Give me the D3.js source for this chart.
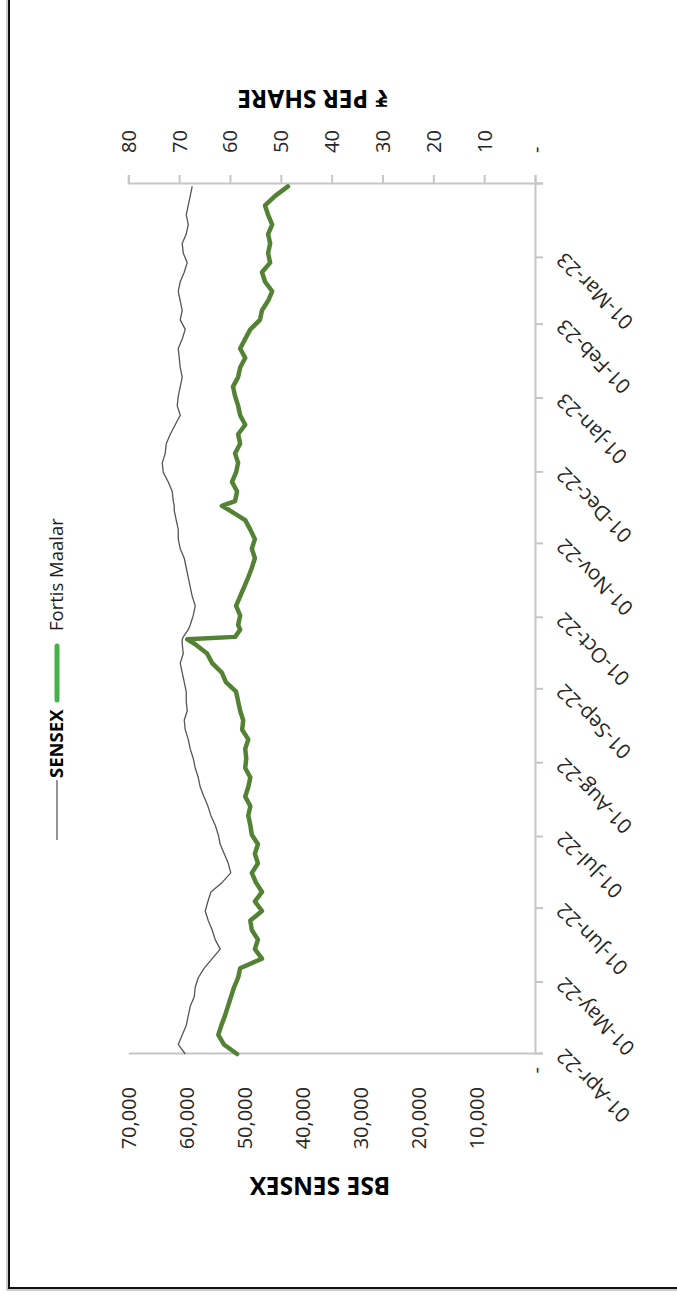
<!DOCTYPE html>
<html><head><meta charset="utf-8">
<script src="https://cdn.jsdelivr.net/npm/d3@7"></script>
<style>html,body{margin:0;padding:0;background:#fff;overflow:hidden}</style>
</head><body><svg id="c" width="677" height="1298"></svg>
<script>
const dates = [
"2022-04-01","2022-04-05","2022-04-09","2022-04-13","2022-04-17","2022-04-21","2022-04-25","2022-04-29",
"2022-05-03","2022-05-07","2022-05-11","2022-05-15","2022-05-19","2022-05-23","2022-05-27","2022-05-31",
"2022-06-04","2022-06-08","2022-06-12","2022-06-16","2022-06-20","2022-06-24","2022-06-28",
"2022-07-02","2022-07-06","2022-07-10","2022-07-14","2022-07-18","2022-07-22","2022-07-26","2022-07-30",
"2022-08-03","2022-08-07","2022-08-11","2022-08-15","2022-08-19","2022-08-23","2022-08-27","2022-08-31",
"2022-09-04","2022-09-08","2022-09-12","2022-09-16","2022-09-20","2022-09-22","2022-09-23","2022-09-26","2022-09-28",
"2022-10-02","2022-10-06","2022-10-10","2022-10-14","2022-10-18","2022-10-22","2022-10-26","2022-10-30",
"2022-11-03","2022-11-07","2022-11-11","2022-11-15","2022-11-17","2022-11-19","2022-11-23","2022-11-27",
"2022-12-01","2022-12-05","2022-12-09","2022-12-13","2022-12-17","2022-12-21","2022-12-25","2022-12-29",
"2023-01-02","2023-01-06","2023-01-10","2023-01-14","2023-01-18","2023-01-22","2023-01-26","2023-01-30",
"2023-02-03","2023-02-07","2023-02-11","2023-02-15","2023-02-19","2023-02-23","2023-02-27",
"2023-03-03","2023-03-07","2023-03-11","2023-03-15","2023-03-19","2023-03-23","2023-03-27","2023-03-31"];

const sensex = [
60200,61400,60720,60030,59680,59340,58650,58480,
57960,56930,55560,54180,55040,55560,56240,56760,
56300,55780,53840,52360,52800,53490,54180,
54520,55040,55780,56300,56990,57620,57960,58480,
58820,59340,59680,60200,60370,59860,60030,60030,
60370,60720,61060,60540,60720,60720,60540,59680,59340,
58820,58480,59000,59340,59680,60030,60370,61060,
61400,61400,61750,62090,62090,62260,62440,63120,
63980,64160,63640,63470,62780,61920,61060,61580,
61400,61060,60720,61060,61230,61400,60720,60200,
61060,60720,61060,61400,61060,60370,59860,
60540,60720,60030,59680,60030,59680,59340,59000];

const fortis = [
58.6,61.2,62.3,61.7,61.0,60.4,59.8,59.2,
58.4,58.0,53.7,55.1,54.5,55.7,56.0,53.7,
55.1,53.7,54.9,55.7,54.5,55.1,54.5,
55.7,56.0,56.4,56.0,57.0,56.4,56.0,57.0,
56.8,57.0,56.4,57.6,57.4,58.0,58.4,58.8,
60.8,61.6,63.5,64.5,66.9,68.4,59.0,58.0,58.4,
58.0,58.8,58.0,57.2,56.4,55.7,55.1,55.7,
55.1,56.0,57.0,60.0,61.6,59.0,58.6,59.6,
58.8,58.4,59.0,58.0,58.4,57.0,58.0,58.4,
59.0,59.4,58.4,58.0,57.0,58.0,57.0,56.0,
54.1,53.7,52.5,51.7,53.1,53.7,52.1,
52.5,52.1,52.5,51.7,52.5,53.1,51.1,48.6];

const monthTicks = ["2022-04-01","2022-05-01","2022-06-01","2022-07-01","2022-08-01","2022-09-01",
"2022-10-01","2022-11-01","2022-12-01","2023-01-01","2023-02-01","2023-03-01","2023-04-01"];
const sensexTicks = [0,10000,20000,30000,40000,50000,60000,70000];
const priceTicks = [0,10,20,30,40,50,60,70,80];
const seriesNames = ["SENSEX","Fortis Maalar"];
const leftTitle = "BSE SENSEX";
const rightTitle = "\u20B9 PER SHARE";

const parse = d3.timeParse("%Y-%m-%d");
const PW = 1298;  // chart width before rotation
const svg = d3.select("#c");
const FONT = "'Open Sans', 'Noto Sans', sans-serif";

// outer frame
svg.append("path").attr("d","M7,0 V1290 H677").attr("fill","none").attr("stroke","#9a9a9a").attr("stroke-width",1);
svg.append("path").attr("d","M9,0 V1288 H677").attr("fill","none").attr("stroke","#111").attr("stroke-width",2);

const g = svg.append("g").attr("transform",`translate(0,${PW}) rotate(-90)`);

const x0 = 244, x1 = 1114, yb = 535, yt = 128.3;
const x = d3.scaleTime().domain([parse("2022-04-01"), parse("2023-04-01")]).range([x0, x1]);
const yL = d3.scaleLinear().domain([0,70000]).range([yb, yt]);
const yR = d3.scaleLinear().domain([0,80]).range([yb, yt]);

const axisCol = "#c6c6c6", textCol = "#262626";

// date axis
const xa = g.append("g").attr("transform",`translate(0,${yb})`)
  .call(d3.axisBottom(x).tickValues(monthTicks.map(parse)).tickSize(8)
    .tickFormat(d3.timeFormat("%d-%b-%y")));
xa.select(".domain").attr("stroke",axisCol).attr("stroke-width",2);
xa.selectAll(".tick line").attr("stroke",axisCol).attr("stroke-width",2);
xa.selectAll(".tick text")
  .attr("font-family",FONT).attr("font-size",20.5).attr("fill",textCol)
  .attr("text-anchor","end").attr("x",0).attr("y",0).attr("dy","0.35em")
  .attr("transform","translate(1,25) rotate(-45)")
  .style("display",(d,i)=> i===monthTicks.length-1 ? "none" : null);

// left axis
const la = g.append("g").attr("transform",`translate(${x0},0)`)
  .call(d3.axisLeft(yL).tickValues(sensexTicks).tickSize(0)
    .tickFormat(d => d===0 ? "-" : d3.format(",")(d)));
la.select(".domain").attr("stroke",axisCol).attr("stroke-width",2);
la.selectAll(".tick text")
  .attr("font-family",FONT).attr("font-size",20).attr("fill",textCol)
  .attr("x", d => d===0 ? -13 : -33).attr("dy","0.35em");

// right axis
const ra = g.append("g").attr("transform",`translate(${x1},0)`)
  .call(d3.axisRight(yR).tickValues(priceTicks).tickSize(9)
    .tickFormat(d => d===0 ? "-" : d3.format(",")(d)));
ra.select(".domain").attr("stroke",axisCol).attr("stroke-width",2);
ra.selectAll(".tick line").attr("stroke",axisCol).attr("stroke-width",2);
ra.selectAll(".tick text")
  .attr("font-family",FONT).attr("font-size",20).attr("fill",textCol)
  .attr("x",31).attr("dy","0.35em");

// lines
const ds = dates.map(parse);
const lineL = d3.line().x((d,i)=>x(ds[i])).y(d=>yL(d));
const lineR = d3.line().x((d,i)=>x(ds[i])).y(d=>yR(d));
g.append("path").datum(sensex).attr("d",lineL).attr("fill","none")
  .attr("stroke","#555").attr("stroke-width",1.3).attr("stroke-linejoin","round");
g.append("path").datum(fortis).attr("d",lineR).attr("fill","none")
  .attr("stroke","#548235").attr("stroke-width",4.5).attr("stroke-linejoin","round").attr("stroke-linecap","round");

// titles
g.append("text").attr("transform","translate(112,320) rotate(-90)").attr("text-anchor","middle").attr("dy","0.35em")
  .attr("font-family",FONT).attr("font-weight","bold").attr("font-size",24.5).attr("fill","#000").text(leftTitle);
g.append("text").attr("transform","translate(1199,313) rotate(-90)").attr("text-anchor","middle").attr("dy","0.35em")
  .attr("font-family",FONT).attr("font-weight","bold").attr("font-size",24.5).attr("fill","#000").text(rightTitle);

// legend
const ly = 57;
g.append("line").attr("x1",458).attr("x2",518).attr("y1",ly).attr("y2",ly).attr("stroke","#6f6f6f").attr("stroke-width",1.5);
g.append("text").attr("x",520).attr("y",ly).attr("dy","0.35em").attr("font-family",FONT).attr("font-weight","bold")
  .attr("font-size",18.5).attr("fill","#000").text(seriesNames[0]);
g.append("line").attr("x1",598).attr("x2",652).attr("y1",ly).attr("y2",ly).attr("stroke","#46b14a").attr("stroke-width",5).attr("stroke-linecap","round");
g.append("text").attr("x",667).attr("y",ly).attr("dy","0.35em").attr("font-family",FONT).attr("font-weight",400)
  .attr("font-size",18.5).attr("fill","#1a1a1a").text(seriesNames[1]);
</script></body></html>
